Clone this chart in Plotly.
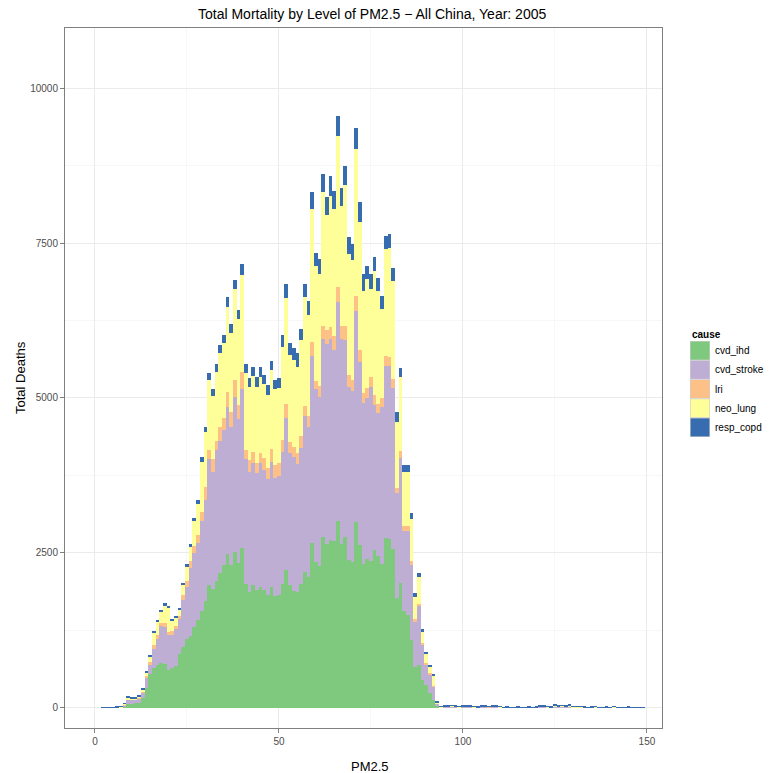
import plotly.graph_objects as go

# PM2.5 bin centres (1 µg/m3 wide bins)
pm25 = list(range(2, 150))

# Deaths per cause in each PM2.5 bin
cvd_ihd = [
    3, 4, 4, 5, 5, 6, 21, 65, 65, 75,
    86, 156, 330, 548, 640, 694, 720, 710, 613, 640,
    677, 871, 989, 1108, 1161, 1312, 1419, 1565, 1731, 1984,
    1914, 2049, 2172, 2307, 2484, 2307, 2522, 2334, 2575, 1995,
    1876, 1984, 1903, 1946, 1903, 1823, 1946, 1807, 1823, 1995,
    2226, 1984, 1893, 1865, 1994, 2196, 2120, 2668, 2353, 2290,
    2750, 2637, 2713, 2687, 3015, 2637, 2763, 2384, 2353, 3002,
    2624, 2323, 2403, 2373, 2549, 2447, 2323, 2737, 2718, 2560,
    1770, 2011, 1560, 1500, 1097, 667, 700, 452, 371, 237,
    129, 40, 4, 8, 8, 9, 8, 4, 7, 8,
    8, 4, 4, 7, 7, 6, 8, 8, 4, 3,
    4, 3, 3, 4, 3, 3, 4, 3, 4, 7,
    7, 4, 4, 11, 8, 9, 8, 11, 5, 4,
    4, 4, 3, 4, 4, 3, 3, 4, 3, 4,
    3, 3, 2, 4, 3, 3, 3, 3,
]
cvd_stroke = [
    3, 3, 4, 4, 5, 5, 24, 64, 64, 54,
    70, 91, 159, 152, 310, 414, 603, 602, 565, 543,
    592, 560, 753, 849, 1092, 1183, 1237, 1457, 1624, 2027,
    1898, 2113, 2140, 2177, 2376, 2231, 2500, 2322, 2565, 2016,
    1936, 1962, 1893, 2000, 1936, 1865, 2027, 1898, 1919, 2140,
    2446, 2124, 2161, 2065, 2205, 2507, 2407, 3012, 2792, 2728,
    3202, 3233, 3239, 3088, 3540, 3315, 3169, 2792, 2760, 3403,
    2962, 2602, 2602, 2803, 2343, 2319, 2527, 2786, 2805, 2597,
    1698, 2016, 1295, 1355, 1203, 723, 940, 568, 329, 308,
    219, 35, 6, 12, 12, 13, 12, 6, 10, 12,
    12, 6, 5, 10, 10, 9, 12, 12, 6, 5,
    5, 5, 5, 5, 5, 5, 5, 5, 5, 10,
    10, 6, 5, 16, 12, 13, 12, 16, 8, 6,
    6, 5, 5, 5, 6, 5, 5, 5, 5, 6,
    5, 5, 4, 5, 5, 5, 5, 5,
]
lri = [
    1, 1, 1, 1, 1, 1, 5, 11, 9, 11,
    9, 15, 21, 45, 70, 70, 54, 65, 54, 54,
    54, 60, 80, 90, 110, 120, 130, 145, 215, 151,
    199, 150, 215, 188, 242, 231, 269, 231, 285, 151,
    188, 189, 150, 162, 188, 178, 199, 215, 204, 188,
    232, 188, 161, 180, 190, 176, 176, 221, 125, 177,
    213, 219, 189, 221, 241, 213, 233, 189, 170, 233,
    189, 156, 152, 158, 158, 139, 150, 157, 145, 145,
    75, 118, 81, 81, 75, 40, 35, 30, 20, 15,
    12, 5, 2, 3, 3, 4, 3, 2, 3, 3,
    3, 2, 1, 3, 3, 2, 3, 3, 2, 1,
    1, 1, 1, 1, 1, 1, 1, 1, 1, 3,
    3, 2, 1, 4, 3, 4, 3, 4, 2, 2,
    2, 1, 1, 1, 2, 1, 1, 1, 1, 2,
    1, 1, 1, 1, 1, 1, 1, 1,
]
neo_lung = [
    3, 3, 4, 4, 4, 5, 15, 25, 17, 20,
    20, 28, 60, 70, 198, 209, 172, 274, 392, 167,
    124, 92, 165, 235, 232, 400, 509, 806, 887, 1129,
    1022, 1113, 1204, 1221, 1371, 1285, 1462, 1382, 1559, 1236,
    1183, 1220, 1237, 1236, 1199, 1183, 1280, 1220, 1210, 1505,
    1704, 1398, 1398, 1390, 1543, 1746, 1639, 2142, 1859, 1809,
    2161, 1860, 2122, 2059, 2432, 1927, 2268, 1953, 1940, 2382,
    2066, 1652, 1764, 1417, 1997, 1828, 1436, 1720, 1757, 1590,
    1077, 1199, 876, 876, 671, 355, 435, 171, 145, 108,
    156, 15, 4, 8, 8, 9, 8, 4, 7, 8,
    8, 4, 4, 7, 7, 6, 8, 8, 4, 3,
    4, 3, 3, 4, 3, 3, 4, 3, 4, 7,
    7, 4, 4, 11, 8, 9, 8, 11, 5, 4,
    4, 4, 3, 4, 4, 3, 3, 4, 3, 4,
    3, 3, 3, 4, 3, 3, 3, 3,
]
resp_copd = [
    1, 1, 1, 1, 1, 2, 10, 18, 17, 17,
    19, 22, 30, 40, 22, 22, 32, 37, 27, 26,
    37, 35, 35, 35, 45, 55, 60, 81, 81, 107,
    107, 124, 124, 124, 151, 140, 151, 151, 178, 151,
    135, 140, 161, 151, 145, 161, 151, 151, 162, 189,
    231, 199, 188, 220, 189, 221, 220, 273, 208, 232,
    284, 295, 315, 291, 317, 297, 316, 284, 265, 334,
    316, 260, 208, 242, 221, 208, 208, 215, 227, 200,
    155, 135, 108, 108, 107, 65, 73, 53, 35, 32,
    30, 15, 4, 9, 9, 10, 9, 4, 8, 9,
    9, 4, 4, 8, 8, 7, 9, 9, 4, 3,
    4, 3, 3, 4, 3, 3, 4, 3, 4, 8,
    8, 4, 4, 13, 9, 10, 9, 13, 5, 4,
    4, 4, 3, 4, 4, 3, 3, 4, 3, 4,
    3, 3, 2, 4, 3, 3, 3, 3,
]

causes = ["cvd_ihd", "cvd_stroke", "lri", "neo_lung", "resp_copd"]
series = [cvd_ihd, cvd_stroke, lri, neo_lung, resp_copd]
colors = ["#7FC97F", "#BEAED4", "#FDC086", "#FFFF99", "#386CB0"]

x_ticks = [0, 50, 100, 150]
x_minor = [25, 75, 125]
y_ticks = [0, 2500, 5000, 7500, 10000]
y_minor = [1250, 3750, 6250, 8750]

FONT = "Liberation Sans, Arial, Helvetica, sans-serif"

fig = go.Figure()
for name, vals, col in zip(causes, series, colors):
    fig.add_trace(go.Bar(
        x=pm25, y=vals, width=1, name=name,
        marker=dict(color=col, line=dict(width=0)),
        showlegend=False,
    ))

# panel geometry in pixels (for placing the hand-drawn legend)
W, H = 769, 773
L, R, T, B = 65, 662, 28, 728


def px_x(px):
    return (px - L) / (R - L)


def px_y(py):
    return (B - py) / (B - T)


shapes = []
annotations = []

# legend: title plus one key per cause
annotations.append(dict(
    text="<b>cause</b>", x=px_x(690), y=px_y(334), xref="paper", yref="paper",
    xanchor="left", yanchor="middle", showarrow=False,
    font=dict(family=FONT, size=10, color="black"),
))
key_top = 341
key_h = 19.2
for i, (name, col) in enumerate(zip(causes, colors)):
    y0 = key_top + i * key_h
    y1 = y0 + key_h
    shapes.append(dict(
        type="rect", xref="paper", yref="paper",
        x0=px_x(690), x1=px_x(710), y0=px_y(y1), y1=px_y(y0),
        fillcolor="#CCCCCC", line=dict(width=0),
    ))
    shapes.append(dict(
        type="rect", xref="paper", yref="paper",
        x0=px_x(690.6), x1=px_x(709.4), y0=px_y(y1 - 0.6), y1=px_y(y0 + 0.6),
        fillcolor=col, line=dict(width=0),
    ))
    annotations.append(dict(
        text=name, x=px_x(713), y=px_y((y0 + y1) / 2), xref="paper", yref="paper",
        xanchor="left", yanchor="middle", showarrow=False,
        font=dict(family=FONT, size=10, color="black"),
    ))

# title and axis titles
annotations.append(dict(
    text="Total Mortality by Level of PM2.5 \u2212 All China, Year: 2005",
    x=px_x(372), y=px_y(14), xref="paper", yref="paper",
    xanchor="center", yanchor="middle", showarrow=False,
    font=dict(family=FONT, size=14, color="black"),
))
annotations.append(dict(
    text="PM2.5", x=px_x(370), y=px_y(766), xref="paper", yref="paper",
    xanchor="center", yanchor="middle", showarrow=False,
    font=dict(family=FONT, size=13, color="black"),
))
annotations.append(dict(
    text="Total Deaths", x=px_x(20), y=px_y(378), xref="paper", yref="paper",
    xanchor="center", yanchor="middle", showarrow=False, textangle=-90,
    font=dict(family=FONT, size=13, color="black"),
))

axis_common = dict(
    showgrid=True, gridcolor="#EBEBEB", gridwidth=1,
    showline=True, mirror=True, linecolor="#7F7F7F", linewidth=1,
    ticks="outside", ticklen=4, tickcolor="#7F7F7F", tickwidth=1,
    tickfont=dict(family=FONT, size=10, color="#4D4D4D"),
    zeroline=False,
)

fig.update_layout(
    width=W, height=H,
    margin=dict(l=L, r=W - R, t=T, b=H - B, pad=0),
    paper_bgcolor="white", plot_bgcolor="white",
    barmode="stack", bargap=0,
    showlegend=False,
    font=dict(family=FONT),
    shapes=shapes,
    annotations=annotations,
    xaxis=dict(
        range=[-8.15, 154.1], tickvals=x_ticks,
        ticktext=[str(v) for v in x_ticks],
        minor=dict(tickvals=x_minor, showgrid=True, gridcolor="#F7F7F7", ticks=""),
        **axis_common,
    ),
    yaxis=dict(
        range=[-323, 10968], tickvals=y_ticks,
        ticktext=[str(v) for v in y_ticks],
        minor=dict(tickvals=y_minor, showgrid=True, gridcolor="#F7F7F7", ticks=""),
        **axis_common,
    ),
)

fig.write_html("out.html")
